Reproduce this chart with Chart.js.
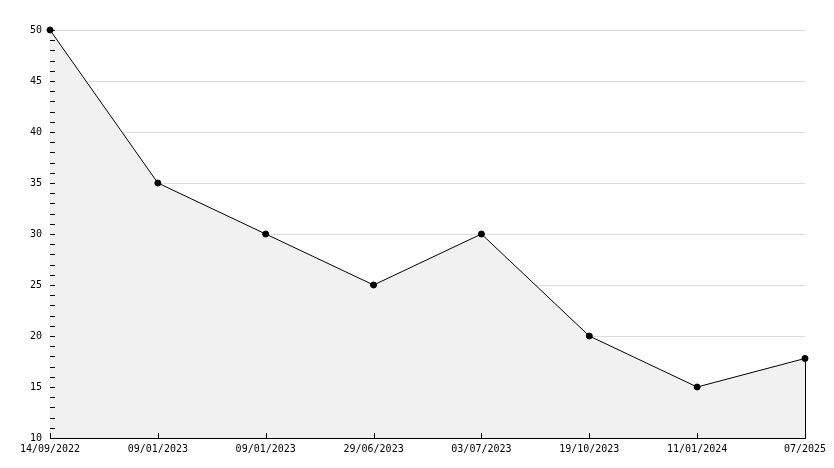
<!DOCTYPE html>
<html>
<head>
<meta charset="utf-8">
<script src="https://cdn.jsdelivr.net/npm/chart.js@4/dist/chart.umd.min.js"></script>
<style>
  html, body { margin: 0; padding: 0; background: #fff; }
  #wrap { width: 834px; height: 468px; }
</style>
</head>
<body>
<div id="wrap"><canvas id="myChart" width="834" height="468"></canvas></div>
<script>
const labels = ['14/09/2022', '09/01/2023', '09/01/2023', '29/06/2023', '03/07/2023', '19/10/2023', '11/01/2024', '07/2025'];
const values = [50, 35, 30, 25, 30, 20, 15, 17.8];
const yMin = 10;
const yMax = 50;
const yStep = 5;

const ctx = document.getElementById('myChart');

// small inward ticks + closing edge of the filled area, like the original
const innerTicks = {
    id: 'innerTicks',
    afterDatasetsDraw(chart) {
        const c = chart.ctx;
        const x = chart.scales.x;
        const y = chart.scales.y;
        const area = chart.chartArea;
        c.save();
        c.strokeStyle = '#000';
        c.lineWidth = 1;
        c.beginPath();
        for (let v = yMin; v <= yMax; v++) {
            const py = Math.round(y.getPixelForValue(v)) + 0.5;
            c.moveTo(area.left, py);
            c.lineTo(area.left + 5, py);
        }
        for (let i = 0; i < labels.length; i++) {
            const px = Math.round(x.getPixelForValue(i)) + 0.5;
            c.moveTo(px, area.bottom);
            c.lineTo(px, area.bottom - 5);
        }
        const last = labels.length - 1;
        const lx = Math.round(x.getPixelForValue(last)) + 0.5;
        c.moveTo(lx, y.getPixelForValue(values[last]));
        c.lineTo(lx, area.bottom);
        c.stroke();
        c.restore();
    }
};

const chart = new Chart(ctx, {
    type: 'line',
    data: {
        labels: labels,
        datasets: [{
            data: values,
            borderColor: '#000',
            borderWidth: 1,
            backgroundColor: '#f1f1f1',
            fill: 'start',
            tension: 0,
            pointRadius: 3,
            pointHoverRadius: 3,
            pointBackgroundColor: '#000',
            pointBorderColor: '#000',
            clip: false
        }]
    },
    options: {
        responsive: false,
        animation: false,
        events: [],
        layout: {
            padding: { top: 30, right: 29, left: 0, bottom: 0 }
        },
        plugins: {
            legend: { display: false },
            tooltip: { enabled: false }
        },
        scales: {
            x: {
                offset: false,
                grid: { display: false, drawTicks: false },
                border: { display: true, color: '#000', width: 1 },
                ticks: {
                    color: '#000',
                    padding: 5,
                    maxRotation: 0,
                    autoSkip: false,
                    font: { family: 'DejaVu Sans Mono', size: 10 }
                },
                afterFit(scale) { scale.height = 30; }
            },
            y: {
                min: yMin,
                max: yMax,
                grid: { color: '#dddddd', drawTicks: false },
                border: { display: true, color: '#000', width: 1 },
                ticks: {
                    stepSize: yStep,
                    color: '#000',
                    padding: 8,
                    font: { family: 'DejaVu Sans Mono', size: 10 }
                },
                afterFit(scale) { scale.width = 50; }
            }
        }
    },
    plugins: [innerTicks]
});
</script>
</body>
</html>
